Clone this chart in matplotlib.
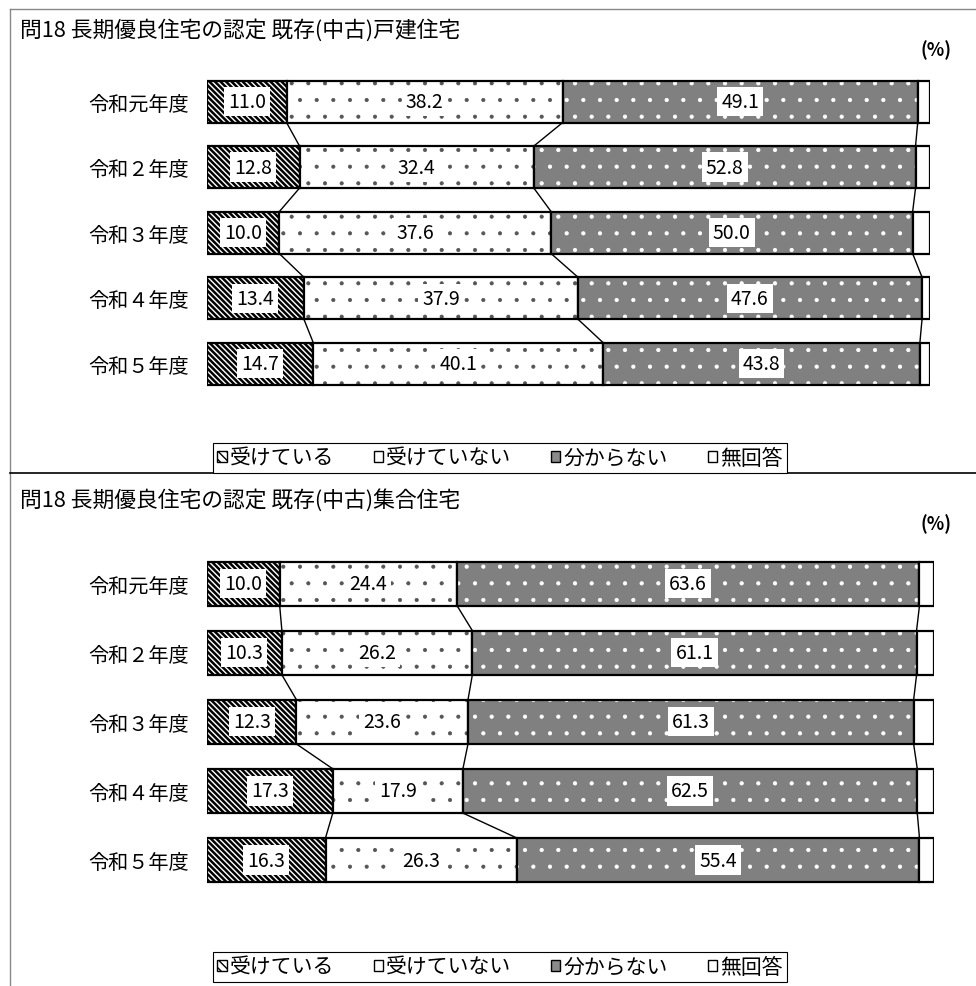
import numpy as np
import matplotlib
matplotlib.use("Agg")
import matplotlib.pyplot as plt
from matplotlib.patches import Patch
from matplotlib.lines import Line2D

plt.rcParams['font.family'] = ['Noto Sans CJK JP', 'DejaVu Sans']

years = ["令和元年度", "令和２年度", "令和３年度", "令和４年度", "令和５年度"]
series = ["受けている", "受けていない", "分からない", "無回答"]

# 戸建住宅
house_yes = [11.0, 12.8, 10.0, 13.4, 14.7]
house_no = [38.2, 32.4, 37.6, 37.9, 40.1]
house_unknown = [49.1, 52.8, 50.0, 47.6, 43.8]
house_na = [1.7, 2.0, 2.4, 1.1, 1.4]

# 集合住宅
apt_yes = [10.0, 10.3, 12.3, 17.3, 16.3]
apt_no = [24.4, 26.2, 23.6, 17.9, 26.3]
apt_unknown = [63.6, 61.1, 61.3, 62.5, 55.4]
apt_na = [2.0, 2.4, 2.8, 2.3, 2.0]

titles = ["問18 長期優良住宅の認定 既存(中古)戸建住宅",
          "問18 長期優良住宅の認定 既存(中古)集合住宅"]

W, H = 976, 987
fig = plt.figure(figsize=(W / 100, H / 100), dpi=100)


def px_axes(x0, y0, x1, y1):
    return fig.add_axes([x0 / W, 1 - y1 / H, (x1 - x0) / W, (y1 - y0) / H])


def draw_panel(ax, parts, h):
    y = np.arange(len(years))
    left = np.zeros(len(years))
    bounds = []
    for k, vals in enumerate(parts):
        vals = np.array(vals)
        if k == 0:
            with plt.rc_context({'hatch.linewidth': 1.8}):
                ax.barh(y, vals, left=left, height=h, color='white',
                        hatch='\\\\\\\\\\\\', edgecolor='black', linewidth=0)
        elif k == 1:
            with plt.rc_context({'hatch.linewidth': 0.5}):
                ax.barh(y, vals, left=left, height=h, color='white', hatch='.',
                        edgecolor='#555555', linewidth=0)
        elif k == 2:
            with plt.rc_context({'hatch.linewidth': 0.6}):
                ax.barh(y, vals, left=left, height=h, color='#808080',
                        hatch='.', edgecolor='white', linewidth=0)
        else:
            ax.barh(y, vals, left=left, height=h, color='white', linewidth=0)
        ax.barh(y, vals, left=left, height=h, fill=False,
                edgecolor='black', linewidth=1.6)
        if k < 3:
            for i in range(len(years)):
                ax.text(left[i] + vals[i] / 2, y[i], f"{vals[i]:.1f}",
                        ha='center', va='center', fontsize=14,
                        bbox=dict(facecolor='white', edgecolor='none', pad=3))
        left = left + vals
        if k < 3:
            bounds.append(left.copy())
    # connecting lines between rows
    for b in bounds:
        for i in range(len(years) - 1):
            ax.plot([b[i], b[i + 1]], [y[i] + h / 2, y[i + 1] - h / 2],
                    color='black', linewidth=1)
    ax.set_xlim(0, 100)
    ax.set_ylim(len(years) - 0.5, -0.5)
    ax.set_yticks(y)
    ax.set_yticklabels(years, fontsize=14.5)
    ax.tick_params(axis='y', length=0, pad=13)
    ax.set_xticks([])
    for s in ax.spines.values():
        s.set_visible(False)


ax1 = px_axes(207, 69.75, 930, 397.5)
draw_panel(ax1, [house_yes, house_no, house_unknown, house_na], 0.64)
ax2 = px_axes(207, 550.1, 934, 895.6)
draw_panel(ax2, [apt_yes, apt_no, apt_unknown, apt_na], 0.64)

# titles and unit labels
for t, ty, uy in [(titles[0], 30, 50), (titles[1], 500, 524)]:
    fig.text(20 / W, 1 - ty / H, t, fontsize=15.7, ha='left', va='center')
    fig.text(936 / W, 1 - uy / H, "(%)", fontsize=13, ha='center', va='center',
             fontweight='bold')

# panel frames
fig.add_artist(Line2D([10 / W, 10 / W], [0, 1 - 10 / H], color='#888888', lw=1))
fig.add_artist(Line2D([10 / W, 1], [1 - 10 / H, 1 - 10 / H], color='#888888', lw=1))
fig.add_artist(Line2D([10 / W, 1], [1 - 474 / H, 1 - 474 / H], color='black', lw=1.2))

# legends
handles = [
    Patch(facecolor='white', edgecolor='black', hatch='\\\\\\\\'),
    Patch(facecolor='white', edgecolor='black'),
    Patch(facecolor='#8a8a8a', edgecolor='black'),
    Patch(facecolor='white', edgecolor='black'),
]
for ly in [459, 968]:
    leg = fig.legend(handles, series, loc='center', ncol=4,
                     bbox_to_anchor=(500 / W, 1 - ly / H), fontsize=15,
                     handlelength=0.45, handleheight=0.45, handletextpad=0.15,
                     columnspacing=1.9, fancybox=False, framealpha=1,
                     borderpad=0.2, borderaxespad=0, edgecolor='black')
    leg.get_frame().set_linewidth(0.8)

fig.savefig("out.png", dpi=100)
